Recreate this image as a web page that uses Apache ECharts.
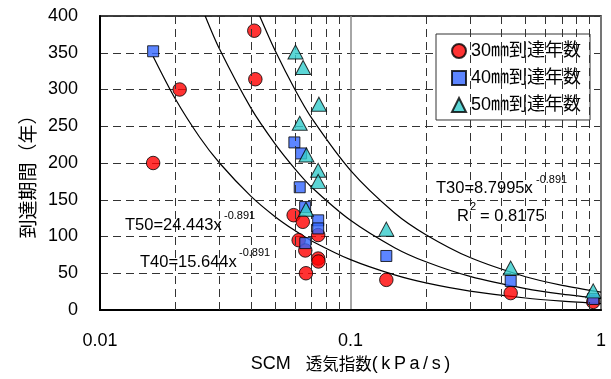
<!DOCTYPE html>
<html><head><meta charset="utf-8">
<script src="https://cdn.jsdelivr.net/npm/echarts@6/dist/echarts.min.js"></script>
<style>html,body{margin:0;padding:0;background:#fff}#c{width:611px;height:379px}</style>
</head><body><div id="c"></div>
<script>
// measured points (x: SCM air permeability index, y: years)
const x30 = [0.0163, 0.0208, 0.0413, 0.0417, 0.0593, 0.0645, 0.0743, 0.0621, 0.066, 0.0743, 0.0745, 0.0664, 0.139, 0.436, 0.931];
const y30 = [200, 300, 380, 314, 129, 120, 102, 95, 81, 70, 66, 50, 41, 23, 11];
const x40 = [0.0163, 0.0597, 0.0635, 0.0627, 0.0659, 0.0743, 0.0743, 0.066, 0.139, 0.436, 0.931];
const y40 = [352, 228, 213, 167, 140, 122, 111, 91, 73.5, 39.5, 15];
const x50 = [0.0603, 0.0647, 0.0748, 0.0627, 0.0667, 0.0743, 0.0743, 0.0664, 0.139, 0.436, 0.931];
const y50 = [351, 330, 280, 254, 211, 190, 175, 137, 110, 57, 26];

// trend curves
const cx30 = [0.0163, 0.02, 0.025, 0.03, 0.04, 0.05, 0.06, 0.07, 0.1, 0.15, 0.2, 0.3, 0.5, 0.7, 1.0];
const cy30 = [345, 287, 235, 200, 155, 127, 108, 94, 68.5, 47.7, 36.9, 25.7, 16.3, 12.1, 8.8];
const cx40 = [0.0263, 0.03, 0.04, 0.05, 0.06, 0.07, 0.1, 0.15, 0.2, 0.3, 0.5, 0.7, 1.0];
const cy40 = [400, 355, 275, 226, 192, 167, 122, 84.8, 65.6, 45.7, 29.0, 21.5, 15.6];
const cx50 = [0.0434, 0.05, 0.06, 0.07, 0.1, 0.15, 0.2, 0.3, 0.5, 0.7, 1.0];
const cy50 = [400, 353, 300, 261, 190, 132, 102.5, 71.4, 45.3, 33.6, 24.4];

const minorX = [0.02, 0.03, 0.04, 0.05, 0.06, 0.07, 0.08, 0.09, 0.2, 0.3, 0.4, 0.5, 0.6, 0.7, 0.8, 0.9];
const seriesNames = ['30㎜到達年数', '40㎜到達年数', '50㎜到達年数'];

const zip = (a, b) => a.map((v, i) => [v, b[i]]);
const FONT = '"Liberation Sans", Arial, "Noto Sans CJK JP", sans-serif';
const CJK = '"Noto Sans CJK JP", sans-serif';

const chart = echarts.init(document.getElementById('c'), null, {renderer: 'canvas'});
const curve = (xs, ys) => ({
  type: 'line', data: zip(xs, ys), showSymbol: false, symbol: 'none', smooth: 0.3,
  lineStyle: {color: '#000', width: 1.2}, silent: true, z: 1
});
const ts = '\u2009';
chart.setOption({
  animation: false,
  backgroundColor: '#fff',
  grid: {left: 100, right: 10, top: 16, bottom: 69, show: true, borderColor: '#000', borderWidth: 1.5, backgroundColor: 'transparent'},
  xAxis: {
    type: 'log', logBase: 10, min: 0.01, max: 1,
    name: '{a|SCM   }{b|透気指数}{a|' + ['(', 'k', 'P', 'a', '/', 's', ')'].join(ts) + '}',
    nameLocation: 'middle', nameGap: 44,
    nameTextStyle: {color: '#000',
      rich: {a: {fontFamily: FONT, fontSize: 18, color: '#000'}, b: {fontFamily: CJK, fontSize: 16.5, color: '#000'}}},
    axisLine: {lineStyle: {color: '#000', width: 2}},
    axisTick: {show: false},
    axisLabel: {fontFamily: FONT, fontSize: 18, color: '#000', margin: 22},
    splitLine: {show: true, lineStyle: {color: '#888', width: 1.5}}
  },
  yAxis: {
    type: 'value', min: 0, max: 400, interval: 50,
    name: '到達期間（年）', nameLocation: 'middle', nameGap: 60, nameRotate: 90,
    nameTextStyle: {fontFamily: CJK, fontSize: 19, color: '#000', padding: [0, 18, 0, 0]},
    axisLine: {show: true, lineStyle: {color: '#000', width: 2}},
    axisTick: {show: false},
    axisLabel: {fontFamily: FONT, fontSize: 18, color: '#000', margin: 22},
    splitLine: {show: true, lineStyle: {color: '#333', width: 1, type: [8, 5]}}
  },
  legend: {
    data: seriesNames, orient: 'vertical', left: 436, top: 34,
    backgroundColor: '#fff', borderColor: '#333', borderWidth: 1,
    padding: [8, 9, 6, 15], itemWidth: 14, itemHeight: 14, itemGap: 9,
    textStyle: {fontFamily: FONT, fontSize: 18, color: '#000', lineHeight: 16}
  },
  series: [
    {type: 'line', data: [], silent: true, z: 0,
     markLine: {silent: true, symbol: 'none', label: {show: false},
       lineStyle: {color: '#333', width: 1, type: [8, 5]},
       data: minorX.map(v => ({xAxis: v}))}},
    curve(cx30, cy30), curve(cx40, cy40), curve(cx50, cy50),
    {name: seriesNames[0], type: 'scatter', data: zip(x30, y30), symbol: 'circle', symbolSize: 13.5, z: 3,
     itemStyle: {color: '#ff0000', borderColor: '#000', borderWidth: 1}},
    {name: seriesNames[1], type: 'scatter', data: zip(x40, y40), symbol: 'rect', symbolSize: 11, z: 4,
     itemStyle: {color: '#3366ff', borderColor: '#000', borderWidth: 1}},
    {name: seriesNames[2], type: 'scatter', data: zip(x50, y50), symbol: 'triangle', symbolSize: [15, 14], z: 5,
     itemStyle: {color: '#33cccc', borderColor: '#000', borderWidth: 1}}
  ],
  graphic: [
    {type: 'text', x: 125, y: 225, z: 10, style: {text: 'T50=24.443x', font: '16.5px ' + FONT, fill: '#000', verticalAlign: 'middle'}},
    {type: 'text', x: 224, y: 216, z: 10, style: {text: '-0.891', font: '11px ' + FONT, fill: '#000', verticalAlign: 'middle'}},
    {type: 'text', x: 140, y: 262, z: 10, style: {text: 'T40=15.644x', font: '16.5px ' + FONT, fill: '#000', verticalAlign: 'middle'}},
    {type: 'text', x: 239, y: 253, z: 10, style: {text: '-0.891', font: '11px ' + FONT, fill: '#000', verticalAlign: 'middle'}},
    {type: 'text', x: 436, y: 188, z: 10, style: {text: 'T30=8.7995x', font: '16.5px ' + FONT, fill: '#000', verticalAlign: 'middle'}},
    {type: 'text', x: 536, y: 180, z: 10, style: {text: '-0.891', font: '11px ' + FONT, fill: '#000', verticalAlign: 'middle'}},
    {type: 'text', x: 457, y: 216, z: 10, style: {text: 'R', font: '16.5px ' + FONT, fill: '#000', verticalAlign: 'middle'}},
    {type: 'text', x: 470, y: 207, z: 10, style: {text: '2', font: '11px ' + FONT, fill: '#000', verticalAlign: 'middle'}},
    {type: 'text', x: 480, y: 216, z: 10, style: {text: '= 0.8175', font: '16.5px ' + FONT, fill: '#000', verticalAlign: 'middle'}}
  ]
});
</script></body></html>
